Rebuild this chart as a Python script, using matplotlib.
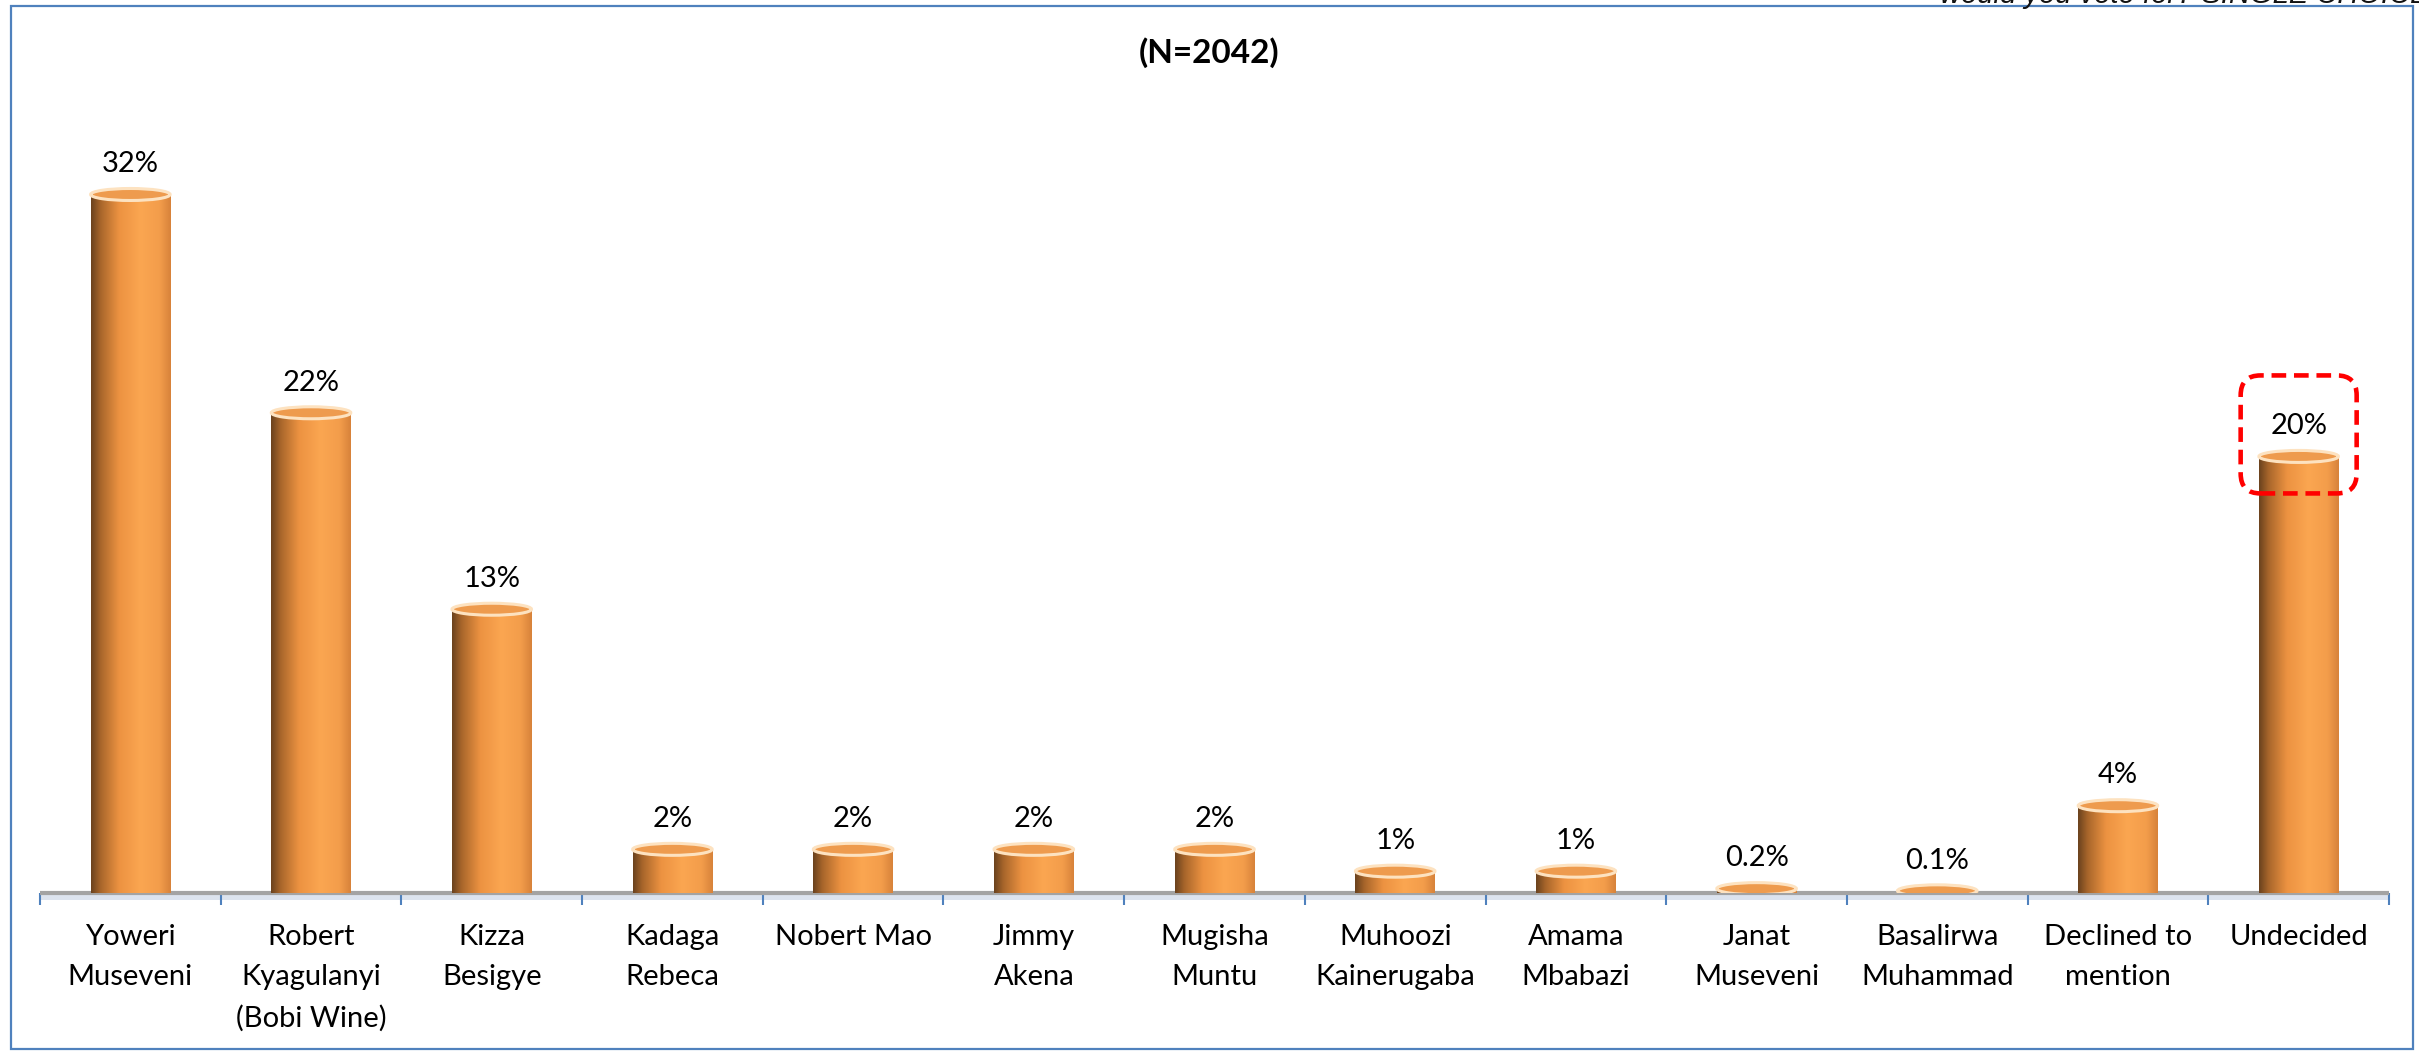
import numpy as np
import matplotlib
matplotlib.use("Agg")
import matplotlib.pyplot as plt
from matplotlib.patches import Ellipse, Rectangle, FancyBboxPatch
from matplotlib.colors import LinearSegmentedColormap

# Survey results: share of respondents per candidate (%)
candidates = [
    "Yoweri\nMuseveni", "Robert\nKyagulanyi\n(Bobi Wine)", "Kizza\nBesigye",
    "Kadaga\nRebeca", "Nobert Mao", "Jimmy\nAkena", "Mugisha\nMuntu",
    "Muhoozi\nKainerugaba", "Amama\nMbabazi", "Janat\nMuseveni",
    "Basalirwa\nMuhammad", "Declined to\nmention", "Undecided",
]
shares = [32, 22, 13, 2, 2, 2, 2, 1, 1, 0.2, 0.1, 4, 20]
highlight = "Undecided"

title = "(N=2042)"
question_tail = "would you vote for? SINGLE CHOICE"

plt.rcParams["font.family"] = ["Lato", "DejaVu Sans"]

W, H = 2419, 1051
fig = plt.figure(figsize=(W / 100, H / 100), dpi=100)
fig.patch.set_facecolor("white")

# axes placed so the floor sits at y=893px and the category slots span 40..2389px
floor_px, top_px, left_px, right_px = 893, 129, 40, 2389
ax = fig.add_axes([left_px / W, (H - floor_px) / H,
                   (right_px - left_px) / W, (floor_px - top_px) / H])
ymax = 35
px_per_unit = (floor_px - top_px) / ymax

# cylinder shading: dark left edge, bright body, slightly darker right edge
cyl = LinearSegmentedColormap.from_list(
    "cyl",
    [(0.0, "#6A421E"), (0.12, "#A8662B"), (0.35, "#EC9241"),
     (0.62, "#FBA651"), (0.86, "#F39D4B"), (1.0, "#D7823A")],
)
grad = np.linspace(0, 1, 256).reshape(1, -1)

x = np.arange(len(candidates))
bar_w = 0.44
bars = ax.bar(x, shares, width=bar_w, color="none", edgecolor="none", zorder=3)
cap_h = 12 / px_per_unit
for b in bars:
    x0, w, h = b.get_x(), b.get_width(), b.get_height()
    im = ax.imshow(grad, cmap=cyl, extent=[x0, x0 + w, 0, h], aspect="auto",
                   interpolation="bicubic", zorder=3)
    im.set_clip_path(b)
    ax.add_patch(Ellipse((x0 + w / 2, h), w, cap_h, facecolor="#EE9B4E",
                         edgecolor="#FDE2C0", lw=2.2, zorder=4))

# value labels above each cylinder
for xi, v in zip(x, shares):
    ax.annotate(f"{v:g}%", (xi, v), xytext=(0, 16), textcoords="offset points",
                ha="center", va="baseline", fontsize=21, color="black", zorder=5)

# floor of the plot
ax.add_patch(Rectangle((-0.5, -7 / px_per_unit), len(x), 7 / px_per_unit,
                       facecolor="#DCE3EE", edgecolor="none", clip_on=False, zorder=1))
ax.plot([-0.5, len(x) - 0.5], [0, 0], color="#A3A3A3", lw=3,
        solid_capstyle="butt", clip_on=False, zorder=2)

# dashed call-out around the highlighted category
hi = candidates.index(highlight)
x_units_per_px = len(x) / (right_px - left_px)
aspect = (1 / px_per_unit) / x_units_per_px
box_w = 116 * x_units_per_px
box_h = 118 / px_per_unit
ax.add_patch(FancyBboxPatch(
    (hi - box_w / 2, shares[hi] - 37 / px_per_unit), box_w, box_h,
    boxstyle="round,pad=0,rounding_size=0.11", mutation_aspect=aspect,
    fill=False, edgecolor="#FF0000", lw=3.3, linestyle=(0, (3.2, 1.7)),
    zorder=6, clip_on=False))

ax.set_xlim(-0.5, len(x) - 0.5)
ax.set_ylim(0, ymax)
ax.set_xticks(x, candidates)
ax.set_xticks(np.arange(-0.5, len(x), 1), minor=True)
ax.tick_params(axis="x", which="major", length=0, pad=22, labelsize=21,
               labelcolor="black")
ax.tick_params(axis="x", which="minor", length=8.6, width=1.5,
               color="#4F81BD", direction="out")
for t in ax.get_xticklabels():
    t.set_linespacing(1.68)
ax.set_yticks([])
for s in ax.spines.values():
    s.set_visible(False)
ax.patch.set_alpha(0)

# chart title and clipped question text
fig.text(0.5, 1 - 63 / H, title, ha="center", va="baseline",
         fontsize=24, fontweight="bold", color="black")
fig.text(1940 / W, 1 - 3 / H, question_tail, ha="left", va="baseline",
         fontsize=21, style="italic", family=["Liberation Sans", "DejaVu Sans"],
         color="#111111")

# outer frame
fig.add_artist(Rectangle((11 / W, 2 / H), (2413 - 11) / W, (1049 - 6) / H,
                         transform=fig.transFigure, fill=False,
                         edgecolor="#4F81BD", lw=1.6))

fig.savefig("out.png", dpi=100)
